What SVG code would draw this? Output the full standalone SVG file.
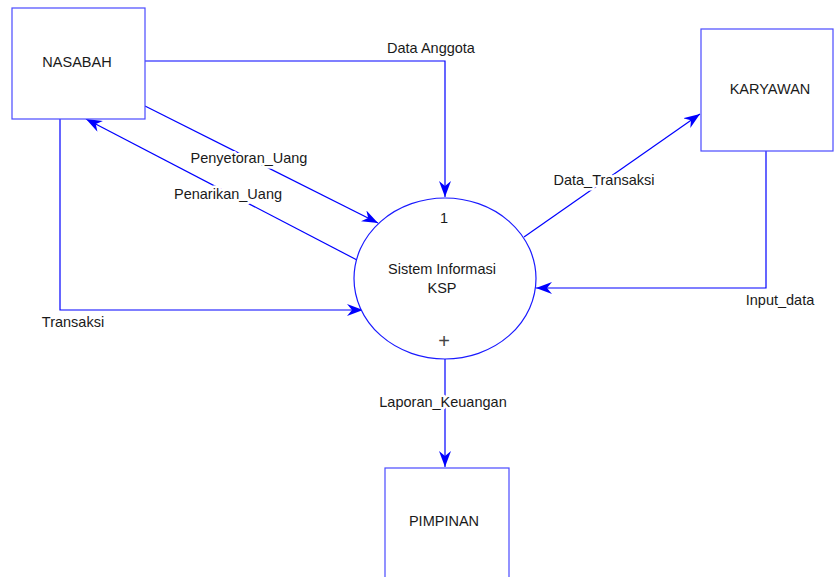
<svg xmlns="http://www.w3.org/2000/svg" width="834" height="577" viewBox="0 0 834 577">
<defs>
<style>
.box{fill:#fff;stroke:#4a4aff;stroke-width:1.2}
.proc{fill:#fff;stroke:#1a1aff;stroke-width:1.2}
.ln{fill:none;stroke:#0000ff;stroke-width:1.2}
text{font-family:"Liberation Sans",Arial,sans-serif;font-size:14.5px;fill:#1a1a1a}
.c{text-anchor:middle}
.lbl{stroke:#fff;stroke-width:5;paint-order:stroke;stroke-linejoin:round}
</style>
<marker id="arr" markerUnits="userSpaceOnUse" markerWidth="20" markerHeight="14" refX="16" refY="6" orient="auto">
<path d="M0,0 L16,6 L0,12 L5,6 Z" fill="#0000ff"/>
</marker>
</defs>
<rect width="834" height="577" fill="#fff"/>
<g id="connectors">
<polyline class="ln" points="145,61 445,61 445,197" marker-end="url(#arr)"/>
<line class="ln" x1="145" y1="106" x2="378" y2="223" marker-end="url(#arr)"/>
<line class="ln" x1="357" y1="260" x2="86" y2="119" marker-end="url(#arr)"/>
<polyline class="ln" points="60,119 60,310 363,310" marker-end="url(#arr)"/>
<line class="ln" x1="524" y1="237" x2="700" y2="114" marker-end="url(#arr)"/>
<polyline class="ln" points="766,151 766,288 536,288" marker-end="url(#arr)"/>
<line class="ln" x1="445" y1="359" x2="445" y2="467" marker-end="url(#arr)"/>
</g>
<g id="nasabah">
<rect class="box" x="12" y="8" width="133" height="111"/>
<text class="c" x="77" y="67">NASABAH</text>
</g>
<g id="karyawan">
<rect class="box" x="701" y="29" width="132" height="122"/>
<text class="c" x="770" y="94">KARYAWAN</text>
</g>
<g id="pimpinan">
<rect class="box" x="385" y="468" width="124" height="120"/>
<text class="c" x="444" y="526">PIMPINAN</text>
</g>
<g id="proses">
<ellipse class="proc" cx="445" cy="278.5" rx="91" ry="80.5"/>
<text class="c" x="444" y="223">1</text>
<text class="c" x="442" y="274">Sistem Informasi</text>
<text class="c" x="442" y="293">KSP</text>
<text class="c" x="444" y="348" style="font-size:20px;fill:#444;font-weight:300">+</text>
</g>
<g id="labels">
<text class="c lbl" x="431" y="53">Data Anggota</text>
<text class="c lbl" x="249" y="163">Penyetoran_Uang</text>
<text class="c lbl" x="228" y="199">Penarikan_Uang</text>
<text class="c lbl" x="73" y="327">Transaksi</text>
<text class="c lbl" x="604" y="185">Data_Transaksi</text>
<text class="c lbl" x="780" y="305">Input_data</text>
<text class="c lbl" x="443" y="407">Laporan_Keuangan</text>
</g>
</svg>
